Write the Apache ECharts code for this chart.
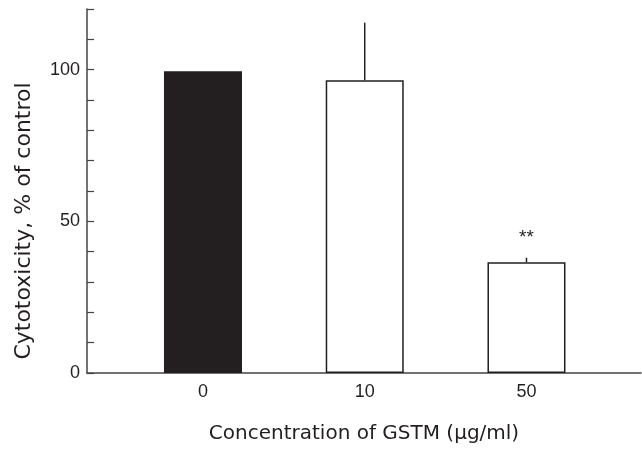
<!DOCTYPE html>
<html><head><meta charset="utf-8">
<script src="https://cdn.jsdelivr.net/npm/echarts@6/dist/echarts.min.js"></script>
<style>html,body{margin:0;padding:0;background:#fff}#c{width:642px;height:449px}</style>
</head><body><div id="c"></div>
<script>
const categories = ['0', '10', '50'];
const positions = [1, 2, 3];
const values = [99.5, 96.5, 36.5];
const errors = [0, 19, 1.5];
const significance = ['', '', '**'];
const yTickLabels = [0, 50, 100];
const fills = ['#231f20', '#ffffff', '#ffffff'];

const ink = '#231f20';
const font = 'Liberation Sans, Arial, Helvetica, sans-serif';
const wideFont = 'DejaVu Sans, Verdana, sans-serif';
const chart = echarts.init(document.getElementById('c'), null, {renderer: 'canvas'});

chart.setOption({
  animation: false,
  backgroundColor: '#fff',
  grid: {left: 87, right: 1, top: 9, bottom: 74, containLabel: false},
  xAxis: {
    type: 'value', min: 0.283, max: 3.708,
    splitLine: {show: false},
    axisLine: {show: true, lineStyle: {color: '#444', width: 1.5}},
    axisTick: {show: false},
    axisLabel: {
      customValues: positions, margin: 10,
      formatter: v => categories[positions.indexOf(Math.round(v))] ?? '',
      color: ink, fontSize: 18, fontFamily: font
    },
    name: 'Concentration of GSTM (\u03bcg/ml)',
    nameLocation: 'middle', nameGap: 51,
    nameTextStyle: {color: ink, fontSize: 20, fontFamily: wideFont}
  },
  yAxis: {
    type: 'value', min: 0, max: 120, interval: 10,
    splitLine: {show: false},
    axisLine: {show: true, lineStyle: {color: '#444', width: 1.5}},
    axisTick: {show: true, inside: true, length: 7, lineStyle: {color: '#444', width: 1.2}},
    axisLabel: {
      formatter: v => yTickLabels.includes(v) ? String(v) : '',
      color: ink, fontSize: 18, fontFamily: font, margin: 7
    },
    name: 'Cytotoxicity, % of control',
    nameLocation: 'middle', nameGap: 52, nameRotate: 90,
    nameTextStyle: {color: ink, fontSize: 22, fontFamily: wideFont, padding: [0, 60, 0, 0]}
  },
  series: [
    {
      type: 'bar', barWidth: 78,
      data: positions.map((p, i) => ({
        value: [p, values[i]],
        itemStyle: {color: fills[i], borderColor: ink, borderWidth: 1.5}
      })),
      z: 2
    },
    {
      type: 'custom',
      data: positions.map((p, i) => [p, values[i], errors[i], i]),
      renderItem: (params, api) => {
        const x = api.value(0), v = api.value(1), e = api.value(2), i = api.value(3);
        const base = api.coord([x, v]);
        const top = api.coord([x, v + e]);
        const children = [];
        if (e > 0) {
          children.push({type: 'line', shape: {x1: base[0], y1: base[1], x2: top[0], y2: top[1]},
            style: {stroke: ink, lineWidth: 1.5}});
        }
        if (significance[i]) {
          children.push({type: 'text', style: {text: significance[i], x: top[0], y: top[1] - 10,
            align: 'center', verticalAlign: 'bottom', fill: ink, fontSize: 19, fontFamily: font}});
        }
        return {type: 'group', children};
      },
      z: 3
    }
  ]
});
</script></body></html>
